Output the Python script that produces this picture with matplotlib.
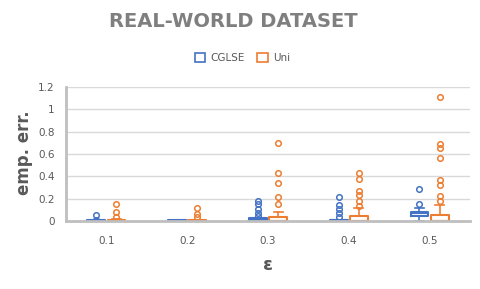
import numpy as np
import matplotlib.pyplot as plt
from matplotlib.patches import Patch

# datos
eps = ["0.1", "0.2", "0.3", "0.4", "0.5"]

cg_q1 = [0.0, 0.0, 0.0, 0.0, 0.045]
cg_med = [0.0, 0.0, 0.005, 0.005, 0.07]
cg_q3 = [0.005, 0.005, 0.03, 0.01, 0.08]
cg_lo = [0.0, 0.0, 0.0, 0.0, 0.0]
cg_hi = [0.005, 0.005, 0.03, 0.01, 0.12]
cg_out = [[0.05, 0.01], [-0.005], [0.18, 0.15, 0.11, 0.075, 0.045],
          [0.215, 0.145, 0.105, 0.07, 0.04], [0.29, 0.15]]

un_q1 = [0.0, 0.0, 0.0, 0.0, 0.0]
un_med = [0.0, 0.0, 0.0, 0.0, 0.0]
un_q3 = [0.01, 0.005, 0.04, 0.045, 0.05]
un_lo = [0.0, 0.0, 0.0, 0.0, 0.0]
un_hi = [0.02, 0.01, 0.08, 0.115, 0.14]
un_out = [[0.15, 0.08, 0.04], [0.115, 0.065, 0.035],
          [0.70, 0.43, 0.34, 0.215, 0.15],
          [0.43, 0.375, 0.27, 0.235, 0.18, 0.135],
          [1.11, 0.69, 0.65, 0.56, 0.37, 0.32, 0.225, 0.18]]

azul = "#4472C4"
naranja = "#ED7D31"
gris = "#595959"

def stats(q1, med, q3, lo, hi, out):
    return [dict(q1=q1[i], med=med[i], q3=q3[i], whislo=lo[i], whishi=hi[i],
                 fliers=out[i]) for i in range(len(q1))]

def estilo(c):
    return dict(boxprops=dict(color=c, lw=1.5),
                medianprops=dict(color=c, lw=1.5),
                whiskerprops=dict(color=c, lw=1.2),
                capprops=dict(color=c, lw=1.2),
                flierprops=dict(marker="o", markerfacecolor="none",
                                markeredgecolor=c, markersize=4, markeredgewidth=1.1))

fig = plt.figure(figsize=(4.8, 2.89), dpi=100)
ax = fig.add_axes([0.1375, 0.2353, 0.8415, 0.4637])

x = np.arange(len(eps))
ax.bxp(stats(cg_q1, cg_med, cg_q3, cg_lo, cg_hi, cg_out), positions=x - 0.125,
       widths=0.22, **estilo(azul))
ax.bxp(stats(un_q1, un_med, un_q3, un_lo, un_hi, un_out), positions=x + 0.125,
       widths=0.22, **estilo(naranja))

ax.set_xlim(-0.5, 4.5)
ax.set_ylim(0, 1.2)
ax.set_yticks(np.arange(0, 1.21, 0.2))
ax.set_yticklabels(["0", "0.2", "0.4", "0.6", "0.8", "1", "1.2"])
ax.set_xticks(x)
ax.set_xticklabels(eps)
ax.tick_params(length=0, labelsize=7.5, colors=gris)
ax.tick_params(axis="x", pad=11)
ax.tick_params(axis="y", pad=8)
ax.yaxis.grid(True, color="#d9d9d9", lw=1)
ax.set_axisbelow(True)
for s in ["top", "right"]:
    ax.spines[s].set_visible(False)
for s in ["left", "bottom"]:
    ax.spines[s].set_color("#bfbfbf")
    ax.spines[s].set_linewidth(2)

fig.text(0.05, 0.47, "emp. err.", fontsize=12, fontweight="bold", color=gris,
         rotation=90, ha="center", va="center")
fig.text(0.558, 0.065, "ε", fontsize=13, fontweight="bold", color=gris, ha="center")
fig.text(0.486, 0.925, "REAL-WORLD DATASET", fontsize=14, fontweight="bold",
         color="#7f7f7f", ha="center", va="center")

# leyenda
h = [Patch(facecolor="white", edgecolor=azul, lw=1.2, label="CGLSE"),
     Patch(facecolor="white", edgecolor=naranja, lw=1.2, label="Uni")]
fig.legend(handles=h, loc="center", bbox_to_anchor=(0.505, 0.80), ncol=2, frameon=False,
           fontsize=7.5, handlelength=1.0, handleheight=1.0, columnspacing=1.2,
           handletextpad=0.5, labelcolor=gris)

plt.savefig("out.png", dpi=100)
